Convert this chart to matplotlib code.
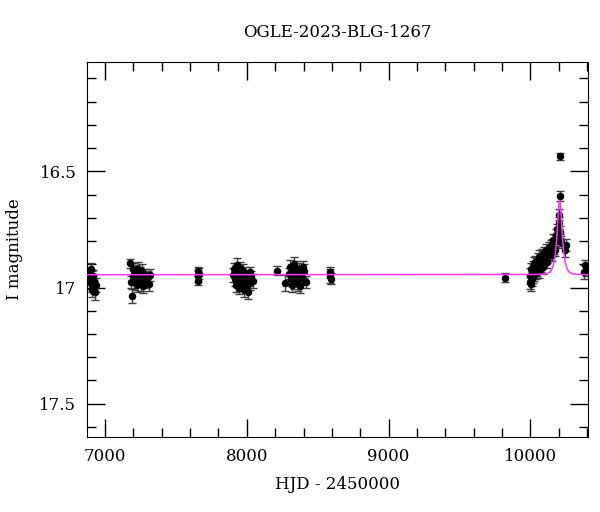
import matplotlib

matplotlib.use("Agg")
import matplotlib.pyplot as plt  # noqa: E402
from matplotlib.ticker import MultipleLocator  # noqa: E402

# ---- photometry (HJD - 2450000, I mag, error) ----
hjd = [
    # 2015 season
    6885, 6890, 6895, 6900, 6905, 6905, 6910, 6915, 6920, 6925, 6930, 6935,
    # 2015 late
    7176, 7181, 7188, 7195, 7200, 7205, 7210, 7215, 7220, 7225, 7230, 7235,
    7240, 7245, 7250, 7255, 7260, 7265, 7270, 7280, 7290, 7300, 7310, 7320,
    # 2016
    7652, 7655, 7658, 7661,
    7905, 7910, 7915, 7920, 7925, 7930, 7935, 7940, 7945, 7950, 7955, 7960,
    7965, 7970, 7975, 7980, 7985, 7990, 7995, 8000, 8005, 8010, 8015, 8020,
    8025, 8030, 8040,
    # 2017
    8216, 8270, 8300, 8305, 8310, 8315, 8320, 8325, 8330, 8335, 8340, 8345,
    8350, 8355, 8360, 8365, 8370, 8376, 8380, 8390, 8398, 8405, 8418,
    8586, 8588, 8590,
    # 2022
    9823,
    # 2023 rise and peak
    9998, 10000, 10003, 10006, 10009, 10012, 10015, 10018, 10021, 10024, 10028,
    10031, 10035, 10038, 10042, 10046, 10050, 10054, 10058, 10062, 10066,
    10070, 10075, 10080, 10085, 10090, 10095, 10100, 10106, 10112, 10118,
    10124, 10130, 10136, 10142, 10148, 10154, 10160, 10166, 10172, 10178,
    10184, 10190, 10195, 10060, 10090, 10120, 10150, 10175,
    10200, 10203, 10205, 10205, 10207, 10210, 10214, 10246, 10252,
    10375, 10385, 10392,
]
imag = [
    16.935, 16.955, 16.975, 16.92, 16.96, 17.01, 16.99, 16.95, 17.0, 16.97, 17.02, 16.99,
    16.896, 16.975, 17.036, 16.92, 16.95, 16.93, 16.98, 16.96, 16.935, 16.99, 16.95, 16.92,
    16.97, 16.94, 16.985, 16.95, 16.93, 16.965, 16.995, 16.945, 16.97, 16.955, 16.985, 16.945,
    16.93, 16.95, 16.97, 16.94,
    16.945, 16.92, 16.965, 16.99, 16.93, 16.905, 16.955, 16.975, 17.0, 16.94, 16.915, 16.965,
    16.985, 16.95, 16.93, 17.01, 16.96, 16.94, 16.975, 16.995, 16.95, 17.02, 16.96, 16.935,
    16.98, 16.955, 16.97,
    16.928, 16.982, 16.94, 16.91, 16.965, 16.99, 16.925, 16.95, 16.9, 16.975, 16.94, 16.915,
    16.96, 16.935, 16.985, 16.95, 16.92, 16.995, 16.945, 16.96, 16.91, 16.93, 16.975,
    16.935, 16.95, 16.962,
    16.958,
    16.975, 16.95, 16.92, 16.985, 16.94, 16.965, 16.91, 16.95, 16.925, 16.9, 16.945,
    16.915, 16.89, 16.935, 16.9, 16.925, 16.88, 16.91, 16.895, 16.87, 16.905,
    16.88, 16.905, 16.86, 16.89, 16.875, 16.85, 16.88, 16.865, 16.84, 16.87,
    16.85, 16.83, 16.855, 16.82, 16.84, 16.815, 16.795, 16.83, 16.8, 16.775,
    16.79, 16.75, 16.77, 16.93, 16.91, 16.89, 16.86, 16.84,
    16.722, 16.686, 16.606, 16.436, 16.76, 16.796, 16.803, 16.84, 16.818,
    16.935, 16.905, 16.925,
]
ierr = [
    0.025, 0.03, 0.03, 0.025, 0.03, 0.03, 0.03, 0.025, 0.03, 0.03, 0.035, 0.03,
    0.02, 0.025, 0.03, 0.025, 0.03, 0.025, 0.03, 0.025, 0.03, 0.03, 0.025, 0.03,
    0.025, 0.03, 0.03, 0.025, 0.03, 0.025, 0.03, 0.025, 0.03, 0.025, 0.03, 0.025,
    0.02, 0.025, 0.02, 0.025,
    0.03, 0.025, 0.03, 0.03, 0.025, 0.03, 0.03, 0.025, 0.03, 0.03, 0.025, 0.03,
    0.03, 0.025, 0.03, 0.03, 0.025, 0.03, 0.03, 0.03, 0.025, 0.03, 0.03, 0.025,
    0.03, 0.025, 0.03,
    0.02, 0.035, 0.025, 0.03, 0.03, 0.03, 0.025, 0.03, 0.03, 0.03, 0.025, 0.03,
    0.03, 0.025, 0.03, 0.03, 0.025, 0.03, 0.025, 0.03, 0.025, 0.03, 0.025,
    0.025, 0.03, 0.025,
    0.02,
    0.03, 0.035, 0.025, 0.03, 0.025, 0.03, 0.025, 0.03, 0.025, 0.03, 0.025,
    0.03, 0.025, 0.03, 0.025, 0.025, 0.03, 0.025, 0.025, 0.03, 0.025,
    0.025, 0.03, 0.025, 0.025, 0.03, 0.025, 0.025, 0.03, 0.025, 0.025,
    0.025, 0.025, 0.025, 0.025, 0.025, 0.025, 0.025, 0.025, 0.025, 0.025,
    0.025, 0.025, 0.025, 0.03, 0.03, 0.025, 0.025, 0.025,
    0.025, 0.025, 0.02, 0.015, 0.025, 0.025, 0.025, 0.03, 0.025,
    0.03, 0.025, 0.025,
]

# ---- model light curve ----
model_t = [
    6876, 10050, 10106, 10126, 10136, 10146, 10156, 10166, 10176, 10181,
    10186, 10191, 10196, 10201, 10206, 10211, 10216, 10221, 10226, 10231,
    10236, 10246, 10256, 10266, 10276, 10286, 10306, 10356, 10406,
]
model_m = [
    16.945, 16.944, 16.941, 16.938, 16.934, 16.927, 16.915, 16.893, 16.852, 16.821,
    16.789, 16.732, 16.682, 16.642, 16.626, 16.642, 16.682, 16.732, 16.789, 16.821,
    16.852, 16.893, 16.915, 16.927, 16.934, 16.938, 16.942, 16.944, 16.945,
]

plt.rcParams["font.family"] = ["DejaVu Serif"]
plt.rcParams["font.size"] = 12

fig = plt.figure(figsize=(6.0, 5.12), dpi=100)
ax = fig.add_axes([0.1458, 0.1465, 0.8342, 0.7324])

ax.errorbar(hjd, imag, yerr=ierr, fmt="o", color="black", ms=4.4,
            ecolor="0.25", elinewidth=1.0, capsize=3, capthick=1.0, zorder=2)
ax.plot(model_t, model_m, color="#ff33ff", lw=1.1, zorder=3)

ax.set_xlim(6876, 10406)
ax.set_ylim(17.643, 16.03)

ax.xaxis.set_major_locator(MultipleLocator(1000))
ax.xaxis.set_minor_locator(MultipleLocator(200))
ax.yaxis.set_major_locator(MultipleLocator(0.5))
ax.yaxis.set_minor_locator(MultipleLocator(0.1))
ax.set_yticks([16.5, 17.0, 17.5])
ax.set_yticklabels(["16.5", "17", "17.5"])
ax.tick_params(which="both", direction="in", top=True, right=True, width=1.0)
ax.tick_params(which="major", length=13, pad=8)
ax.tick_params(which="minor", length=6.5)

ax.set_xlabel("HJD - 2450000", labelpad=8)
ax.set_ylabel("I magnitude", labelpad=12)
ax.set_title("OGLE-2023-BLG-1267", pad=18, fontsize=12)

fig.savefig("out.png", dpi=100)
